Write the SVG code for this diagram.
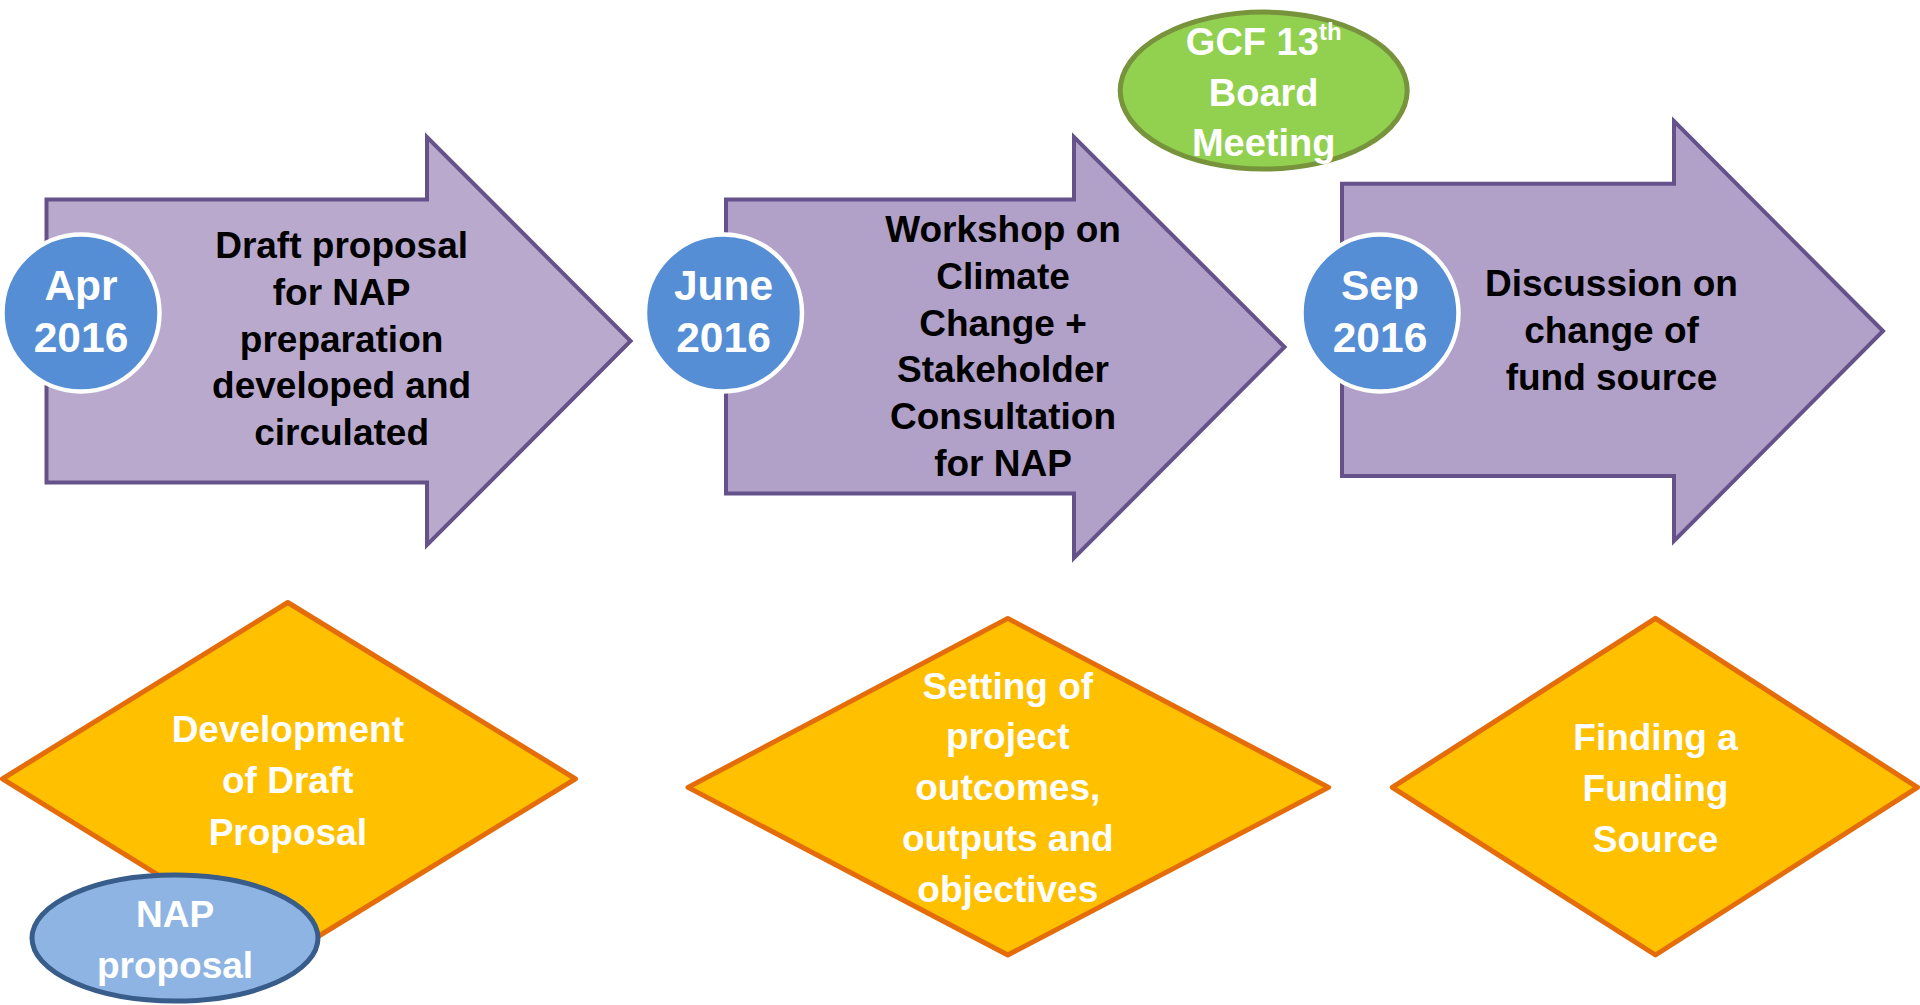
<svg xmlns="http://www.w3.org/2000/svg" width="1920" height="1005" viewBox="0 0 1920 1005">
<style>
.arrow{stroke:#65528a;stroke-width:4;stroke-linejoin:miter}
.date{fill:#558ed5;stroke:#ffffff;stroke-width:4.5}
.diamond{fill:#ffc000;stroke:#e46c0a;stroke-width:5;stroke-linejoin:round}
.t{font-family:"Liberation Sans",Arial,sans-serif;font-weight:bold;text-anchor:middle}
.dark{fill:#000000;font-size:37px}
.white{fill:#ffffff;font-size:37px}
.dt{fill:#ffffff;font-size:42.5px}
</style>
<rect width="1920" height="1005" fill="#ffffff"/>
<g id="connectors"/>
<g id="arrow1">
<path class="arrow" fill="#b9aacd" d="M46.5,199.6 H427 V137 L630.6,341 L427,545 V482.5 H46.5 Z"/>
<text class="t dark"><tspan x="341.6" y="258">Draft proposal</tspan><tspan x="341.6" y="304.8">for NAP</tspan><tspan x="341.6" y="351.6">preparation</tspan><tspan x="341.6" y="398.4">developed and</tspan><tspan x="341.6" y="445.2">circulated</tspan></text>
</g>
<g id="arrow2">
<path class="arrow" fill="#b1a0c7" d="M726,199.6 H1074 V137 L1284.5,347 L1074,558 V493.5 H726 Z"/>
<text class="t dark"><tspan x="1003" y="242">Workshop on</tspan><tspan x="1003" y="288.8">Climate</tspan><tspan x="1003" y="335.6">Change +</tspan><tspan x="1003" y="382.4">Stakeholder</tspan><tspan x="1003" y="429.2">Consultation</tspan><tspan x="1003" y="476">for NAP</tspan></text>
</g>
<g id="arrow3">
<path class="arrow" fill="#b1a0c7" d="M1342,183.7 H1674 V121 L1883,331 L1674,541 V476 H1342 Z"/>
<text class="t dark"><tspan x="1611.5" y="296">Discussion on</tspan><tspan x="1611.5" y="342.8">change of</tspan><tspan x="1611.5" y="389.6">fund source</tspan></text>
</g>
<g id="date-apr">
<circle class="date" cx="81" cy="313" r="78.5"/>
<text class="t dt"><tspan x="81" y="300">Apr</tspan><tspan x="81" y="352">2016</tspan></text>
</g>
<g id="date-june">
<circle class="date" cx="723.5" cy="313" r="78.5"/>
<text class="t dt"><tspan x="723.5" y="300">June</tspan><tspan x="723.5" y="352">2016</tspan></text>
</g>
<g id="date-sep">
<circle class="date" cx="1380" cy="313" r="78.5"/>
<text class="t dt"><tspan x="1380" y="300">Sep</tspan><tspan x="1380" y="352">2016</tspan></text>
</g>
<g id="gcf">
<ellipse cx="1263.7" cy="90.6" rx="143.5" ry="78.5" fill="#92d050" stroke="#77933c" stroke-width="5"/>
<text class="t" fill="#ffffff" font-size="38"><tspan x="1263.7" y="55">GCF 13<tspan font-size="24" dy="-15">th</tspan></tspan><tspan x="1263.7" y="105.5">Board</tspan><tspan x="1263.7" y="156">Meeting</tspan></text>
</g>
<g id="diamond1">
<path class="diamond" d="M287.8,602.5 L575.5,778.8 L287.8,955 L2.4,778.8 Z"/>
<text class="t white"><tspan x="287.8" y="742">Development</tspan><tspan x="287.8" y="793.4">of Draft</tspan><tspan x="287.8" y="844.8">Proposal</tspan></text>
</g>
<g id="diamond2">
<path class="diamond" d="M1007.8,618.4 L1328.6,787.4 L1007.8,955 L688,787.4 Z"/>
<text class="t white"><tspan x="1007.8" y="698.5">Setting of</tspan><tspan x="1007.8" y="749.4">project</tspan><tspan x="1007.8" y="800.3">outcomes,</tspan><tspan x="1007.8" y="851.2">outputs and</tspan><tspan x="1007.8" y="902.1">objectives</tspan></text>
</g>
<g id="diamond3">
<path class="diamond" d="M1655.5,618.4 L1917.5,787.4 L1655.5,955 L1392.3,787.4 Z"/>
<text class="t white"><tspan x="1655.5" y="750">Finding a</tspan><tspan x="1655.5" y="800.8">Funding</tspan><tspan x="1655.5" y="851.6">Source</tspan></text>
</g>
<g id="nap-proposal">
<ellipse cx="175" cy="938" rx="143" ry="63" fill="#8eb4e3" stroke="#385d8a" stroke-width="5"/>
<text class="t white"><tspan x="175" y="927">NAP</tspan><tspan x="175" y="978">proposal</tspan></text>
</g>
</svg>
